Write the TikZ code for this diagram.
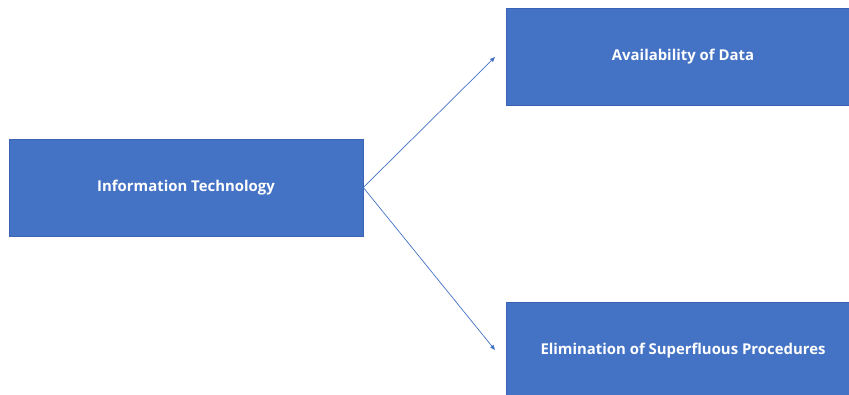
\documentclass[tikz,border=0pt]{standalone}
\usepackage{fontspec}
\setmainfont{Open Sans}
\usetikzlibrary{arrows.meta}
\definecolor{boxblue}{HTML}{4472C4}
\definecolor{edgeblue}{HTML}{3A64B3}
\tikzset{
  blockbox/.style={rectangle, fill=boxblue, draw=edgeblue, line width=0.6pt, text=white, font=\fontsize{14.9}{17}\selectfont\bfseries, inner sep=0pt},
  linkarrow/.style={draw=boxblue, line width=0.7pt, -{Triangle[length=5pt,width=4pt]}}
}
\begin{document}
\begin{tikzpicture}[x=1pt,y=-1pt]
        \useasboundingbox (0,0) rectangle (849,394);

        % Boxes
        \node[blockbox, minimum width=354, minimum height=97] (itech) at (186,187.5) {Information Technology};
        \node[blockbox, minimum width=354, minimum height=97] (avail) at (683,56.5) {Availability of Data};
        \node[blockbox, minimum width=354, minimum height=98] (elim) at (683,351) {Elimination of Superfluous Procedures};

        % Arrow ends
        \coordinate (availtip) at (495,57);
        \coordinate (elimtip) at (495,350);

        % Arrows
        \draw[linkarrow] (itech.east) -- (availtip);
        \draw[linkarrow] (itech.east) -- (elimtip);
      \end{tikzpicture}
\end{document}
